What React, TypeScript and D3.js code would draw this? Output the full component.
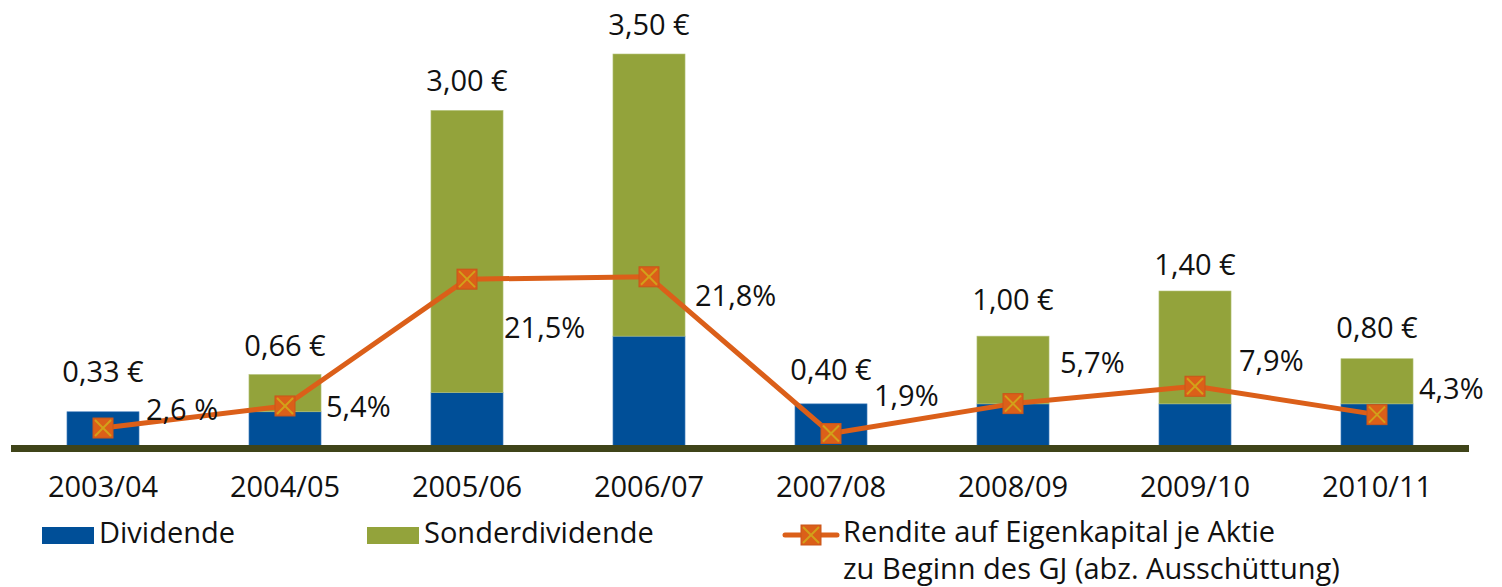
import React from 'react';
import * as d3 from 'd3';

// Geschäftsjahre
const years = ['2003/04', '2004/05', '2005/06', '2006/07', '2007/08', '2008/09', '2009/10', '2010/11'];
// Dividende je Aktie (€)
const dividende = [0.33, 0.33, 0.5, 1.0, 0.4, 0.4, 0.4, 0.4];
// Sonderdividende je Aktie (€)
const sonderdividende = [0, 0.33, 2.5, 2.5, 0, 0.6, 1.0, 0.4];
// Rendite auf Eigenkapital je Aktie (%)
const rendite = [2.6, 5.4, 21.5, 21.8, 1.9, 5.7, 7.9, 4.3];
const renditeLabels = ['2,6 %', '5,4%', '21,5%', '21,8%', '1,9%', '5,7%', '7,9%', '4,3%'];

// manually placed labels (as in the original)
const valueLabelGap = [30, 19, 19, 19, 24, 26, 16, 21];
const pctLabelDx = [7, 5, 1, 10, 7, 11, 8, 6];
const pctLabelDy = [-8, 11, 59, 29, -28, -31, -15, -16];

const W = 1502;
const H = 587;
const BLUE = '#004f98';
const GREEN = '#93a33b';
const ORANGE = '#db5f19';
const XCOLOR = '#d2a11a';
const BASE = '#3f4419';
const FONT = '"Open Sans", sans-serif';
const FS = 29;

const Marker = ({ cx, cy }: { cx: number; cy: number }) => {
  const s = 10;
  return (
    <g>
      <rect x={cx - s} y={cy - s} width={2 * s} height={2 * s} fill={ORANGE} stroke="#c9561a" strokeWidth={1} />
      <line x1={cx - s + 2} y1={cy - s + 2} x2={cx + s - 2} y2={cy + s - 2} stroke={XCOLOR} strokeWidth={2} />
      <line x1={cx + s - 2} y1={cy - s + 2} x2={cx - s + 2} y2={cy + s - 2} stroke={XCOLOR} strokeWidth={2} />
    </g>
  );
};

export default function App() {
  const x = d3.scaleBand<string>().domain(years).range([12, 1468]).paddingInner(0.604).paddingOuter(0.302);
  const y = d3.scaleLinear().domain([0, 3.5]).range([449, 54]);
  const y2 = d3.scaleLinear().domain([0, 25]).range([448.5, 251.6]);
  const bw = x.bandwidth();
  const cx = (d: string) => (x(d) as number) + bw / 2;

  const totals = years.map((_, i) => dividende[i] + sonderdividende[i]);
  const fmt = (v: number) => v.toFixed(2).replace('.', ',') + ' €';

  const line = d3
    .line<number>()
    .x((_, i) => cx(years[i]))
    .y(d => y2(d));

  return (
    <svg width={W} height={H} style={{ position: 'absolute', left: 0, top: 0, fontFamily: FONT }}>
      <rect width={W} height={H} fill="#fff" />
      {years.map((yr, i) => (
        <g key={yr}>
          <rect x={x(yr)} y={y(dividende[i])} width={bw} height={y(0) - y(dividende[i])} fill={BLUE} stroke="#4f86c0" strokeWidth={0.6} />
          {sonderdividende[i] > 0 && (
            <rect
              x={x(yr)}
              y={y(totals[i])}
              width={bw}
              height={y(dividende[i]) - y(totals[i])}
              fill={GREEN}
              stroke="#b4c27a"
              strokeWidth={0.6}
            />
          )}
          <text x={cx(yr)} y={y(totals[i]) - valueLabelGap[i]} textAnchor="middle" fontSize={FS} fill="#111">
            {fmt(totals[i])}
          </text>
          <text x={cx(yr)} y={497} textAnchor="middle" fontSize={FS} fill="#111">
            {yr}
          </text>
        </g>
      ))}
      <rect x={11} y={445} width={1458} height={7} fill={BASE} />
      <path d={line(rendite) as string} fill="none" stroke={ORANGE} strokeWidth={5} strokeLinejoin="round" />
      {rendite.map((v, i) => (
        <Marker key={i} cx={cx(years[i])} cy={y2(v)} />
      ))}
      {rendite.map((v, i) => (
        <text
          key={'p' + i}
          x={(x(years[i]) as number) + bw + pctLabelDx[i]}
          y={y2(v) + pctLabelDy[i]}
          fontSize={FS}
          fill="#111"
        >
          {renditeLabels[i]}
        </text>
      ))}
      {/* Legende */}
      <rect x={42} y={527} width={52} height={17} fill={BLUE} />
      <text x={99} y={543} fontSize={FS} fill="#111">Dividende</text>
      <rect x={367} y={527} width={52} height={17} fill={GREEN} />
      <text x={424} y={543} fontSize={FS} fill="#111">Sonderdividende</text>
      <line x1={785} y1={535} x2={837} y2={535} stroke={ORANGE} strokeWidth={5} strokeLinecap="round" />
      <Marker cx={811} cy={535} />
      <text x={843} y={542} fontSize={FS} fill="#111">Rendite auf Eigenkapital je Aktie</text>
      <text x={843} y={579} fontSize={FS} fill="#111">zu Beginn des GJ (abz. Ausschüttung)</text>
    </svg>
  );
}
